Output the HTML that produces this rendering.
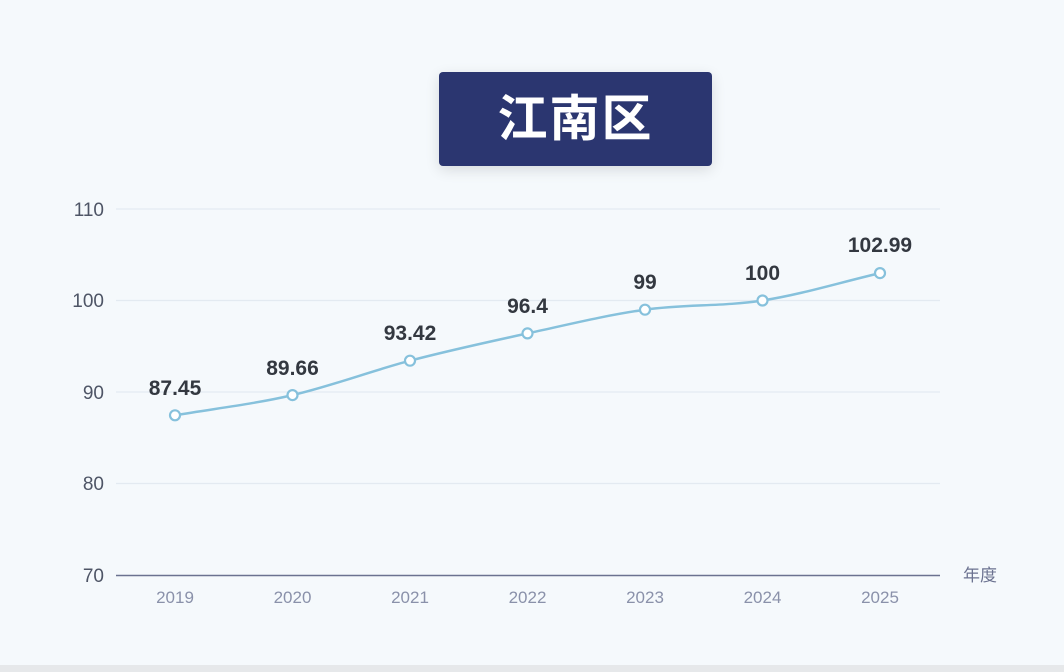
<!DOCTYPE html>
<html><head><meta charset="utf-8"><style>
html,body{margin:0;padding:0;}
body{width:1064px;height:672px;background:#f5f9fc;overflow:hidden;position:relative;font-family:"Liberation Sans","Noto Sans CJK SC",sans-serif;}
.title{position:absolute;left:439px;top:72px;width:273px;height:94px;background:#2b3670;border-radius:4px;color:#fff;font-size:50px;font-weight:bold;text-align:center;line-height:94px;letter-spacing:2px;box-shadow:0 4px 14px rgba(0,0,0,0.12);}
.bottom{position:absolute;left:0;top:665px;width:1064px;height:7px;background:#e6e8ea;}
</style></head><body>
<div class="title">江南区</div>
<svg width="1064" height="672" style="position:absolute;left:0;top:0">
<g stroke="#e3eaf1" stroke-width="1.3">
<line x1="116" y1="209" x2="940" y2="209"/>
<line x1="116" y1="300.5" x2="940" y2="300.5"/>
<line x1="116" y1="392" x2="940" y2="392"/>
<line x1="116" y1="483.5" x2="940" y2="483.5"/>
</g>
<line x1="116" y1="575.5" x2="940" y2="575.5" stroke="#6b7290" stroke-width="1.5"/>
<g font-size="19" fill="#4e5566" text-anchor="end" font-family="Liberation Sans,sans-serif">
<text x="104" y="216">110</text><text x="104" y="307">100</text><text x="104" y="399">90</text><text x="104" y="490">80</text><text x="104" y="582">70</text>
</g>
<g font-size="17" fill="#8a91aa" text-anchor="middle">
<text x="175" y="603">2019</text><text x="292.5" y="603">2020</text><text x="410" y="603">2021</text><text x="527.5" y="603">2022</text><text x="645" y="603">2023</text><text x="762.5" y="603">2024</text><text x="880" y="603">2025</text>
</g>
<text x="963" y="581" font-size="17" fill="#6b7290" font-family="Liberation Sans,Noto Sans CJK SC,sans-serif">年度</text>
<path d="M175,415.3 C214.2,408.6 253.3,404.2 292.5,395.1 C331.7,386.0 370.8,371.0 410,360.7 C449.2,350.4 488.3,341.9 527.5,333.4 C566.7,324.9 605.8,315.2 645,309.7 C684.2,304.2 723.3,306.6 762.5,300.5 C801.7,294.4 840.8,282.2 880,273.1" fill="none" stroke="#86c1dc" stroke-width="2.5"/>
<g fill="#fff" stroke="#86c1dc" stroke-width="2.2">
<circle cx="175" cy="415.3" r="5"/><circle cx="292.5" cy="395.1" r="5"/><circle cx="410" cy="360.7" r="5"/><circle cx="527.5" cy="333.4" r="5"/><circle cx="645" cy="309.7" r="5"/><circle cx="762.5" cy="300.5" r="5"/><circle cx="880" cy="273.1" r="5"/>
</g>
<g font-size="21" font-weight="bold" fill="#333840" text-anchor="middle">
<text x="175" y="395">87.45</text><text x="292.5" y="375">89.66</text><text x="410" y="340">93.42</text><text x="527.5" y="313">96.4</text><text x="645" y="289">99</text><text x="762.5" y="280">100</text><text x="880" y="252">102.99</text>
</g>
</svg>
<div class="bottom"></div>
</body></html>
